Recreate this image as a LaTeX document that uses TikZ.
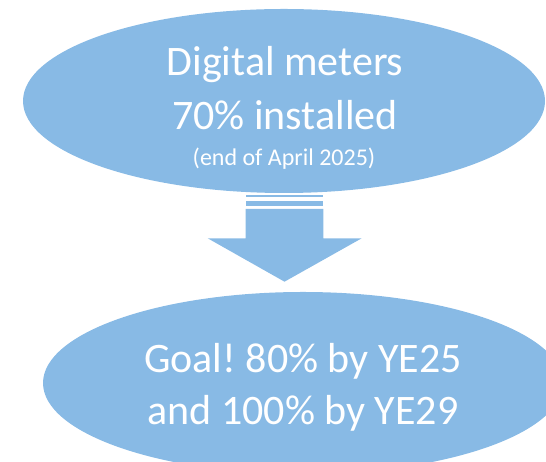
\documentclass[tikz,border=0pt]{standalone}
\usepackage{fontspec}
\setmainfont{Carlito}
\usetikzlibrary{shapes.geometric}
\definecolor{fillblue}{HTML}{88BAE5}
\frenchspacing
\begin{document}
\begin{tikzpicture}[x=1pt,y=1pt,
  blob/.style={ellipse, fill=fillblue, draw=none, inner sep=0pt},
  bigtext/.style={text=white, anchor=base, inner sep=0pt, font=\fontsize{42}{50}\selectfont},
  smalltext/.style={text=white, anchor=base, inner sep=0pt, font=\fontsize{24}{28}\selectfont}]
\useasboundingbox (0,0) rectangle (546,462);
\clip (0,0) rectangle (546,462);
\node[blob, minimum width=522pt, minimum height=184pt] (topell) at (284,361) {};
\node[blob, minimum width=520pt, minimum height=182pt] (botell) at (303,79) {};
% arrow
\coordinate (arrowtip) at (284.5,180.3);
\fill[fillblue] (245.7,267) rectangle (323.3,264.7);
\fill[fillblue] (245.7,261.3) rectangle (323.3,256.3);
\fill[fillblue] (245.7,253) -- (323.3,253) -- (323.3,223.7) -- (361.7,223.7) -- (arrowtip) -- (207.7,223.7) -- (245.7,223.7) -- cycle;
% texts
\node[bigtext] (t1) at (285,386) {Digital meters};
\node[bigtext] (t2) at (285,332.4) {70\% installed};
\node[smalltext] (t3) at (284,296.5) {(end of April 2025)};
\node[bigtext] (b1) at (303,89.7) {Goal!\ 80\% by YE25};
\node[bigtext] (b2) at (303,37.4) {and 100\% by YE29};
\end{tikzpicture}
\end{document}
